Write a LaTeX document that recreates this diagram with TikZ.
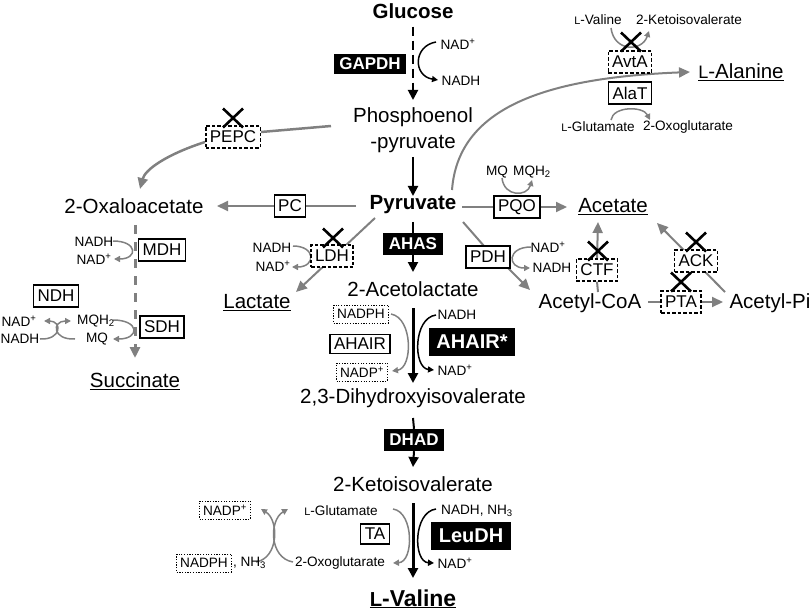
\documentclass[tikz,border=0pt]{standalone}
\usepackage{fontspec}
\setmainfont{Liberation Sans}
\usetikzlibrary{arrows.meta}
\pgfdeclarelayer{bg}
\pgfsetlayers{bg,main}
\definecolor{gl}{gray}{0.5}
\newcommand{\fsz}[1]{\fontsize{#1}{#1}\selectfont}
\newcommand{\lsc}{\scalebox{0.8}{L}}
\newcommand{\lbig}{\scalebox{0.88}{L}}
\tikzset{
  mt/.style={font=\fsz{20.5}, inner sep=0pt},
  mtb/.style={font=\bfseries\fsz{20.5}, inner sep=0pt},
  st/.style={font=\fsz{13.6}, inner sep=0pt},
  enz/.style={draw, line width=1.3pt, fill=white, font=\fsz{17}, inner xsep=4pt, inner ysep=2pt, minimum height=22pt},
  enzd/.style={enz, dash pattern=on 3.5pt off 2pt},
  enzb/.style={fill=black, text=white, font=\bfseries\fsz{17}, inner xsep=5.5pt, inner ysep=2pt, minimum height=22pt},
  enzB/.style={fill=black, text=white, font=\bfseries\fsz{20}, inner xsep=7.5pt, inner ysep=2pt, minimum height=28pt},
  dotb/.style={draw, dash pattern=on 1.2pt off 1.5pt, line width=1pt, fill=white, font=\fsz{13.6}, inner xsep=3.5pt, inner ysep=2pt, minimum height=18pt},
  garr/.style={draw=gl, line width=2pt, -{Triangle[length=11pt,width=10pt]}},
  gline/.style={draw=gl, line width=2pt},
  barr/.style={draw=black, line width=2pt, -{Triangle[length=10pt,width=10pt]}},
  bline/.style={draw=black, line width=2pt},
  sga/.style={draw=gl, line width=1.5pt, -{Triangle[length=6pt,width=6pt]}},
  sba/.style={draw=black, line width=1.5pt, -{Triangle[length=6pt,width=6pt]}},
  xmk/.pic={\draw[line width=2.6pt] (-10,-9.5)--(10,9.5) (-10,9.5)--(10,-9.5);}
}
\begin{document}
\begin{tikzpicture}[x=1pt,y=-1pt]
\useasboundingbox (0,0) rectangle (810,612);
% ---------- main metabolites
\node[mtb] (glc) at (413,11) {Glucose};
\node[mt, align=center, font=\fontsize{20.5}{26}\selectfont] (pep) at (413,130) {Phosphoenol\\-pyruvate};
\node[mtb] (pyr) at (413,205) {Pyruvate};
\node[mt] (acl) at (413,289) {2-Acetolactate};
\node[mt] (dhiv) at (413,398) {2,3-Dihydroxyisovalerate};
\node[mt] (kiv) at (413,484) {2-Ketoisovalerate};
\node[font=\bfseries\fsz{23}, inner sep=0pt, anchor=base] (val) at (413,606) {\underline{\lbig-Valine}};
\node[mt] (oaa) at (134,206) {2-Oxaloacetate};
\node[mt] (succ) at (135,381) {\underline{Succinate}};
\node[mt] (lac) at (257,303) {\underline{Lactate}};
\node[mt] (ala) at (741,72) {\underline{\lbig-Alanine}};
\node[mt] (acet) at (613,207) {\underline{Acetate}};
\node[mt] (accoa) at (590,303) {Acetyl-CoA};
\node[mt] (acp) at (770,303) {Acetyl-Pi};
% ---------- enzymes
\node[enzb, minimum height=20pt] (gapdh) at (370,64) {GAPDH};
\node[enzb] (ahas) at (413,244) {AHAS};
\node[enzb] (dhad) at (414,440) {DHAD};
\node[enzB] (ahairs) at (472,342) {AHAIR*};
\node[enzB] (leudh) at (471,536) {LeuDH};
\node[enzd] (pepc) at (233,137) {PEPC};
\node[enz] (pc) at (290,206) {PC};
\node[enz] (mdh) at (162,250) {MDH};
\node[enz] (ndh) at (56,296) {NDH};
\node[enz] (sdh) at (162,327) {SDH};
\node[enzd] (ldh) at (332,256) {LDH};
\node[enz, minimum height=19pt] (ahair) at (360,344) {AHAIR};
\node[enz, minimum height=20pt] (ta) at (375,534) {TA};
\node[enzd] (avta) at (630,62) {AvtA};
\node[enz] (alat) at (630,93) {AlaT};
\node[enz] (pqo) at (517,207) {PQO};
\node[enz] (pdh) at (488,257) {PDH};
\node[enzd] (ctf) at (597,270) {CTF};
\node[enzd] (pta) at (681,302) {PTA};
\node[enzd] (ack) at (696,261) {ACK};
% ---------- cofactors
\node[st] (g1) at (458,44) {NAD\textsuperscript{+}};
\node[st] (g2) at (461,81) {NADH};
\node[st] (m1) at (94,242) {NADH};
\node[st] (m2) at (94,259) {NAD\textsuperscript{+}};
\node[st] (n1) at (19,321) {NAD\textsuperscript{+}};
\node[st] (n2) at (20,339) {NADH};
\node[st] (q1) at (96,321) {MQH\textsubscript{2}};
\node[st] (q2) at (97,339) {MQ};
\node[st] (l1) at (272,248) {NADH};
\node[st] (l2) at (273,266) {NAD\textsuperscript{+}};
\node[dotb] (a1) at (361,314) {NADPH};
\node[dotb] (a2) at (362,372) {NADP\textsuperscript{+}};
\node[st] (a3) at (457,315) {NADH};
\node[st] (a4) at (455,370) {NAD\textsuperscript{+}};
\node[st] (t1) at (341,511) {\lsc-Glutamate};
\node[st] (t2) at (340,563) {2-Oxoglutarate};
\node[dotb] (t3) at (225,510) {NADP\textsuperscript{+}};
\node[dotb] (t4) at (204,563) {NADPH};
\node[st, anchor=west] (t5) at ([xshift=1pt]t4.east) {, NH\textsubscript{3}};
\node[st] (u1) at (477,511) {NADH, NH\textsubscript{3}};
\node[st] (u2) at (455,563) {NAD\textsuperscript{+}};
\node[st] (v1) at (598,20) {\lsc-Valine};
\node[st] (v2) at (689,20) {2-Ketoisovalerate};
\node[st] (v3) at (598,127) {\lsc-Glutamate};
\node[st] (v4) at (688,127) {2-Oxoglutarate};
\node[st] (p1) at (497,172) {MQ};
\node[st] (p2) at (532,172) {MQH\textsubscript{2}};
\node[st] (d1) at (548,247) {NAD\textsuperscript{+}};
\node[st] (d2) at (552,268) {NADH};
% ---------- connectors (behind boxes)
\begin{pgfonlayer}{bg}
\draw[barr, dash pattern=on 9pt off 5pt] (glc.south) ++(0,8) -- (413,100);
\draw[barr] (413,157) -- (413,196);
\draw[bline] (413,222) -- (ahas.north);
\draw[barr] (ahas.south) -- (413,272);
\draw[barr, line width=3pt] (413,308) -- (413,383);
\draw[bline] (413,418) -- (dhad.north);
\draw[barr] (dhad.south) -- (413,467);
\draw[barr, line width=3pt] (413,503) -- (413,578);
% PEPC
\draw[gline, line width=2.5pt] (331,126) -- (261,132);
\draw[garr, line width=2.5pt] (205,142) .. controls (165,155) and (145,170) .. (140,189);
% PC
\draw[gline] (356,206) -- (pc.east);
\draw[garr] (pc.west) -- (217,206);
% OAA -> succinate
\draw[garr, line width=3pt, dash pattern=on 9pt off 8pt] (135,225) -- (135,358);
% Lactate
\draw[garr] (375,218) -- (296,292);
% Alanine
\draw[garr] (452,190) .. controls (458,110) and (540,78) .. (690,72);
% PQO
\draw[gline] (462,207) -- (pqo.west);
\draw[garr] (pqo.east) -- (567,207);
% PDH
\draw[gline] (463,222) -- (484,246);
\draw[garr] (508,268) -- (530,290);
% CTF
\draw[gline] (598,292) -- (ctf.south);
\draw[garr] (ctf.north) -- (598,222);
% PTA
\draw[gline] (648,302) -- (pta.west);
\draw[garr] (pta.east) -- (723,302);
% ACK
\draw[garr] (725,292) -- (657,223);
% cofactor arcs
\draw[sba] (436,42) .. controls (413,46) and (413,76) .. (438,80);
\draw[sga] (113,241) .. controls (138,241) and (138,259) .. (114,259);
\draw[sga] (113,320) .. controls (140,320) and (140,339) .. (113,339);
\draw[sga] (40,339) .. controls (62,340) and (62,321) .. (44,321);
\draw[sga] (75,339) .. controls (52,340) and (52,321) .. (71,321);
\draw[sga] (293,246) .. controls (316,246) and (316,267) .. (292,267);
\draw[sga] (391,314) .. controls (413,318) and (413,368) .. (392,371);
\draw[sba] (436,315) .. controls (413,318) and (413,368) .. (434,370);
\draw[sga] (393,509) .. controls (414,512) and (414,562) .. (393,563);
\draw[sba] (436,509) .. controls (413,512) and (413,562) .. (434,563);
\draw[sga] (256,562) .. controls (279,558) and (279,520) .. (261,509);
\draw[sga] (293,562) .. controls (269,558) and (269,520) .. (288,509);
\draw[sga] (611,28) .. controls (614,52) and (642,52) .. (649,31);
\draw[sga] (611,120) .. controls (613,106) and (643,106) .. (650,120);
\draw[sga] (502,178) .. controls (504,197) and (527,197) .. (532,180);
\draw[sga] (531,247) .. controls (507,247) and (507,268) .. (530,268);
\end{pgfonlayer}
% ---------- knock-out marks
\pic at (233,118) {xmk};
\pic at (333,238) {xmk};
\pic at (631,42) {xmk};
\pic at (598,251) {xmk};
\pic at (696,242) {xmk};
\pic at (681,282) {xmk};
\end{tikzpicture}
\end{document}
